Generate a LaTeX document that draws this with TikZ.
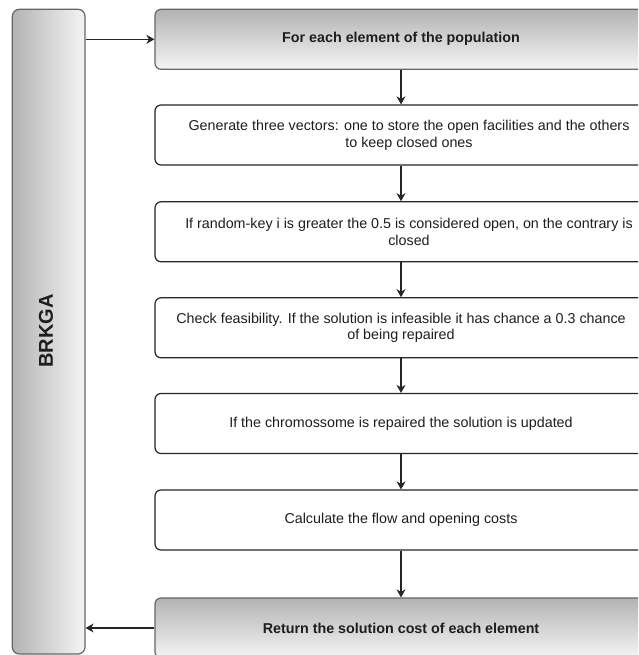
\documentclass[tikz,border=0pt]{standalone}
\usepackage{fontspec}
\setmainfont{Liberation Sans}
\usetikzlibrary{arrows.meta}
\definecolor{gTop}{RGB}{179,179,179}
\definecolor{gBot}{RGB}{245,245,245}
\definecolor{gStroke}{RGB}{102,102,102}
\definecolor{txt}{RGB}{30,30,30}
\begin{document}
\begin{tikzpicture}[x=1pt,y=-1pt,
  every node/.style={font=\fontsize{14.3pt}{16.7pt}\selectfont, align=center, inner sep=0pt, text=txt},
  plainbox/.style={draw=black!85, line width=1.2pt, rounded corners=6pt, fill=white, minimum width=492pt, minimum height=60pt},
  gradbox/.style={draw=gStroke, line width=1.2pt, rounded corners=6pt, top color=gTop, bottom color=gBot, minimum width=492pt, minimum height=60pt, font=\fontsize{14.3pt}{16.7pt}\selectfont\bfseries},
  link/.style={draw=black!85, line width=1.2pt, -{Stealth[length=8pt,width=9pt,inset=2.5pt]}}
]
\clip (0,0) rectangle (638,655);
\useasboundingbox (0,0) rectangle (638,655);

\node[draw=gStroke, line width=1.2pt, rounded corners=7pt, left color=gTop, right color=gBot,
      minimum width=72.7pt, minimum height=644.7pt] (brkga) at (48.65,331.65) {};
\node[rotate=90, font=\fontsize{20pt}{22pt}\selectfont\bfseries] (brkgatxt) at (46,331) {BRKGA};

\node[gradbox] (b1) at (401,39.3) {For each element of the population};
\node[plainbox] (b2) at (401,135) {};
\node (t2) at (409,135) {Generate three vectors: one to store the open facilities and the others\\to keep closed ones};
\node[plainbox] (b3) at (401,231.8) {};
\node (t3) at (409,231.8) {If random-key i is greater the 0.5 is considered open, on the contrary is\\closed};
\node[plainbox] (b4) at (401,327.8) {Check feasibility. If the solution is infeasible it has chance a 0.3 chance\\of being repaired};
\node[plainbox] (b5) at (401,423.5) {If the chromossome is repaired the solution is updated};
\node[plainbox] (b6) at (401,520) {Calculate the flow and opening costs};
\node[gradbox] (b7) at (401,628) {Return the solution cost of each element};

\draw[link] (brkga.east |- b1.west) -- (b1.west);
\draw[link] (b1) -- (b2);
\draw[link] (b2) -- (b3);
\draw[link] (b3) -- (b4);
\draw[link] (b4) -- (b5);
\draw[link] (b5) -- (b6);
\draw[link] (b6) -- (b7);
\draw[link] (b7.west) -- (brkga.east |- b7.west);
\end{tikzpicture}
\end{document}
